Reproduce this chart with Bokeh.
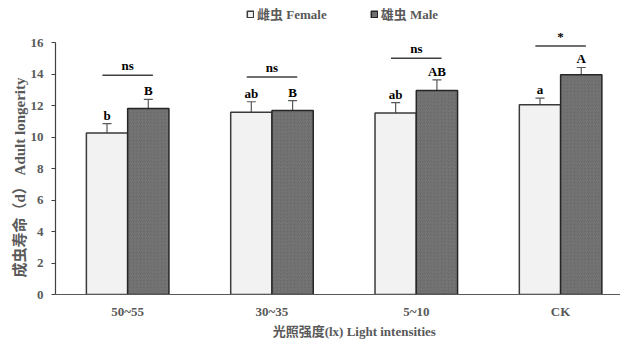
from bokeh.plotting import figure
from bokeh.models import (ColumnDataSource, Range1d, FixedTicker, Whisker, TeeHead,
                          Legend, LegendItem)
from bokeh.core.properties import value
from bokeh.embed import file_html
from bokeh.resources import INLINE

categories = ["50~55", "30~35", "5~10", "CK"]
female = [10.27, 11.6, 11.55, 12.07]
female_err = [0.6, 0.66, 0.65, 0.42]
male = [11.83, 11.7, 12.98, 13.97]
male_err = [0.58, 0.63, 0.67, 0.47]
female_letters = ["b", "ab", "ab", "a"]
male_letters = ["B", "B", "AB", "A"]
sig_labels = ["ns", "ns", "ns", "*"]
sig_y = [13.95, 13.84, 15.03, 15.8]
y_ticks = [0, 2, 4, 6, 8, 10, 12, 14, 16]

SERIF = "'Liberation Serif', 'Noto Sans CJK SC'"
BW = 0.286

idx = list(range(len(categories)))
xf = [i - BW / 2 for i in idx]
xm = [i + BW / 2 for i in idx]

src_f = ColumnDataSource(dict(x=xf, top=female, up=[v + e for v, e in zip(female, female_err)],
                              lo=[v - e for v, e in zip(female, female_err)], lab=female_letters))
src_m = ColumnDataSource(dict(x=xm, top=male, up=[v + e for v, e in zip(male, male_err)],
                              lo=[v - e for v, e in zip(male, male_err)], lab=male_letters))
src_s = ColumnDataSource(dict(x0=[i - 0.175 for i in idx], x1=[i + 0.175 for i in idx],
                              xc=idx, y=sig_y, lab=sig_labels))

p = figure(frame_width=565, frame_height=294, output_backend="svg", toolbar_location=None,
           x_range=Range1d(-0.5, 3.415), y_range=Range1d(0, 18.70),
           min_border_left=55, min_border_right=0, min_border_top=0, min_border_bottom=0)
p.outline_line_color = None
p.xgrid.visible = False
p.ygrid.visible = False

rf = p.vbar(x="x", top="top", width=BW, source=src_f, fill_color="#f2f2f2",
            line_color="#3a3a3a", line_width=1.5)
rm = p.vbar(x="x", top="top", width=BW, source=src_m, fill_color="#666666",
            line_color="#262626", line_width=1.5, hatch_pattern="/",
            hatch_color="#929292", hatch_scale=3.5, hatch_weight=0.5)

for src in (src_f, src_m):
    w = Whisker(base="x", upper="up", lower="lo", source=src, line_color="#595959", line_width=1.2,
                upper_head=TeeHead(size=9, line_color="#595959", line_width=1.2),
                lower_head=TeeHead(size=9, line_color="#595959", line_width=1.2))
    p.add_layout(w)
    p.text(x="x", y="up", text="lab", source=src, text_align="center", text_baseline="bottom",
           y_offset=-1, text_font=value("Liberation Serif"), text_font_style="bold",
           text_font_size="13px", text_color="#000000")

p.segment(x0="x0", y0="y", x1="x1", y1="y", source=src_s, line_color="#404040", line_width=1.5)
p.text(x="xc", y="y", text="lab", source=src_s, text_align="center", text_baseline="bottom",
       y_offset=-2, text_font=value("Liberation Serif"), text_font_style="bold",
       text_font_size="13px", text_color="#000000")

# axes
p.xaxis.ticker = FixedTicker(ticks=idx)
p.xaxis.major_label_overrides = {i: c for i, c in zip(idx, categories)}
p.xaxis.major_tick_line_color = None
p.xaxis.major_tick_out = 0
p.xaxis.major_tick_in = 0
p.xaxis.minor_tick_line_color = None
p.xaxis.axis_line_color = "#595959"
p.xaxis.axis_line_width = 1.2
p.xaxis.major_label_standoff = 9
p.xaxis.axis_label = "\u2003\u2003\u2002光照强度(lx) Light intensities"
p.xaxis.axis_label_standoff = 2

p.yaxis.ticker = FixedTicker(ticks=y_ticks)
p.yaxis.bounds = (0, 16)
p.yaxis.major_tick_out = 4
p.yaxis.major_tick_in = 0
p.yaxis.minor_tick_line_color = None
p.yaxis.axis_line_color = "#404040"
p.yaxis.major_tick_line_color = "#404040"
p.yaxis.axis_line_width = 1.2
p.yaxis.major_label_standoff = 8
p.yaxis.axis_label = "成虫寿命（d） Adult longerity\u2003\u2003\u2003\u2003"
p.yaxis.axis_label_standoff = 0

for ax in (p.xaxis, p.yaxis):
    ax.major_label_text_font = SERIF
    ax.major_label_text_font_style = "bold"
    ax.major_label_text_font_size = "13px"
    ax.major_label_text_color = "#595959"
    ax.axis_label_text_font = SERIF
    ax.axis_label_text_font_style = "bold"
    ax.axis_label_text_color = "#595959"
p.xaxis.axis_label_text_font_size = "13px"
p.yaxis.axis_label_text_font_size = "15px"

legend = Legend(items=[LegendItem(label="雌虫 Female", renderers=[rf]),
                       LegendItem(label="雄虫 Male", renderers=[rm])],
                location=(191, 271), orientation="horizontal",
                glyph_width=8, glyph_height=8, label_standoff=3, spacing=43,
                padding=0, margin=0, border_line_color=None, background_fill_alpha=0,
                label_text_font=SERIF, label_text_font_style="bold",
                label_text_font_size="13px", label_text_color="#595959", label_height=13)
p.add_layout(legend)

open("out.html", "w").write(file_html(p, INLINE))
